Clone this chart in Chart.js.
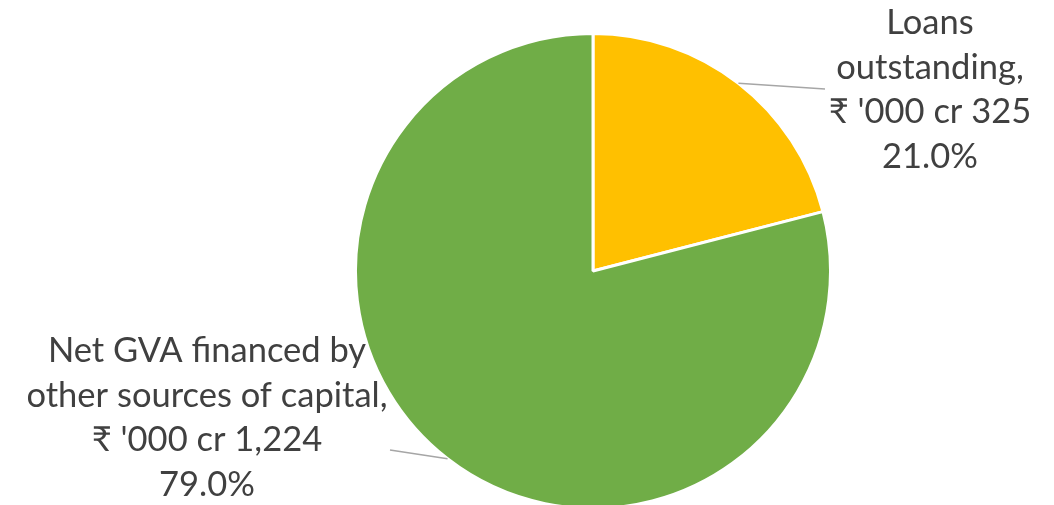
<html>
  <head>
    <script src="https://cdn.jsdelivr.net/npm/chart.js@4.4.0/dist/chart.umd.min.js"></script>
    <style>
      body { margin: 0; background: #fff; overflow: hidden; }
    </style>
  </head>
  <body>
    <canvas id="output" width="1054" height="510"></canvas>

    <script>
      // Loans vs other sources of capital, in Rs '000 crore
      var categories = ['Loans outstanding', 'Net GVA financed by other sources of capital'];
      var labelLines = [['Loans', 'outstanding,'], ['Net GVA financed by', 'other sources of capital,']];
      var values = [325, 1224];
      var colors = ['#FFC000', '#70AD47'];

      // where each data label block sits (centre x, first baseline y) and where its leader line ends
      var labelPos = [{ x: 930, y: 34, lineX: 825, lineY: 89 }, { x: 207, y: 362, lineX: 390, lineY: 450 }];

      var total = values.reduce(function(a, b) { return a + b; }, 0);

      function fmt(v) {
        return v.toLocaleString('en-US');
      }

      // Draws the Excel-style data labels with leader lines
      var pieLabels = {
        id: 'pieLabels',
        afterDatasetsDraw: function(chart) {
          var ctx = chart.ctx;
          var meta = chart.getDatasetMeta(0);
          ctx.save();
          meta.data.forEach(function(arc, i) {
            var mid = (arc.startAngle + arc.endAngle) / 2;
            var sx = arc.x + Math.cos(mid) * arc.outerRadius;
            var sy = arc.y + Math.sin(mid) * arc.outerRadius;
            var p = labelPos[i];

            ctx.strokeStyle = '#A6A6A6';
            ctx.lineWidth = 1.5;
            ctx.beginPath();
            ctx.moveTo(sx, sy);
            ctx.lineTo(p.lineX, p.lineY);
            ctx.stroke();

            var lines = labelLines[i].concat([
              "\u20B9 '000 cr " + fmt(values[i]),
              (values[i] / total * 100).toFixed(1) + '%'
            ]);
            ctx.fillStyle = '#404040';
            ctx.font = '34.5px Lato';
            ctx.textAlign = 'center';
            ctx.textBaseline = 'alphabetic';
            lines.forEach(function(t, k) {
              ctx.fillText(t, p.x, p.y + k * 44.5);
            });
          });
          ctx.restore();
        }
      };

      var ctx = document.getElementById('output').getContext('2d');
      var myChart = new Chart(ctx, {
        type: 'pie',
        data: {
          labels: categories,
          datasets: [{
            data: values,
            backgroundColor: colors,
            borderColor: '#FFFFFF',
            borderWidth: 3
          }]
        },
        options: {
          responsive: false,
          animation: false,
          layout: { padding: { top: 32, left: 132, right: 0, bottom: 0 } },
          plugins: {
            legend: { display: false },
            tooltip: { enabled: false }
          }
        },
        plugins: [pieLabels]
      });
    </script>
  </body>
</html>
